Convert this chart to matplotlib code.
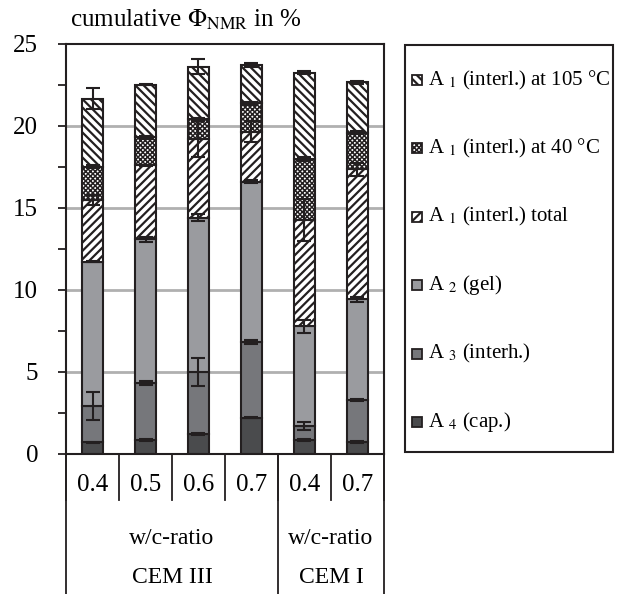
import matplotlib
matplotlib.use("Agg")
import matplotlib.pyplot as plt
from matplotlib.patches import Rectangle
import numpy as np

plt.rcParams["font.family"] = ["Liberation Serif", "DejaVu Serif"]
plt.rcParams["mathtext.fontset"] = "stix"

# w/c-ratio categories and cement groups
ratios = ["0.4", "0.5", "0.6", "0.7", "0.4", "0.7"]
groups = ["CEM III", "CEM I"]
group_sizes = [4, 2]

# cumulative tops of each stacked segment (in %), bottom to top
a4_cap = [0.71, 0.85, 1.22, 2.22, 0.85, 0.75]
a3_interh = [2.93, 4.31, 4.98, 6.83, 1.71, 3.29]
a2_gel = [11.73, 13.09, 14.41, 16.60, 7.80, 9.43]
a1_total = [15.50, 17.60, 19.19, 19.66, 14.27, 17.37]
a1_40 = [17.52, 19.31, 20.43, 21.38, 17.99, 19.60]
a1_105 = [21.65, 22.52, 23.62, 23.72, 23.25, 22.66]

# error bar half-widths at each cumulative top
err_a4 = [0.05, 0.05, 0.05, 0.05, 0.05, 0.05]
err_a3 = [0.85, 0.12, 0.85, 0.10, 0.25, 0.05]
err_a2 = [0.05, 0.15, 0.20, 0.08, 0.40, 0.15]
err_a1_total = [0.30, 0.05, 1.10, 0.63, 1.27, 0.40]
err_a1_40 = [0.10, 0.10, 0.08, 0.08, 0.10, 0.10]
err_a1_105 = [0.64, 0.05, 0.45, 0.12, 0.10, 0.10]

# label, data, errors, fill, hatch, hatch line width
layers = [
    ("A $_4$ (cap.)", a4_cap, err_a4, "#4a4b4d", None, 1.6),
    ("A $_3$ (interh.)", a3_interh, err_a3, "#76777b", None, 1.6),
    ("A $_2$ (gel)", a2_gel, err_a2, "#9a9b9f", None, 1.6),
    ("A $_1$ (interl.) total", a1_total, err_a1_total, "white", "////", 1.6),
    ("A $_1$ (interl.) at 40 °C", a1_40, err_a1_40, "white", "xxxxxxx", 1.1),
    ("A $_1$ (interl.) at 105 °C", a1_105, err_a1_105, "white", "\\\\\\\\", 1.6),
]

edge = "#231f20"
fs = 17
W, H = 624, 594
fig = plt.figure(figsize=(W / 100, H / 100), dpi=100)
ax = fig.add_axes([66 / W, 140 / H, 318 / W, 410 / H])

x = np.arange(len(ratios))
width = 0.415
bottom = np.zeros(len(ratios))
for label, tops, err, color, hatch, hlw in layers:
    plt.rcParams["hatch.linewidth"] = hlw
    tops = np.array(tops)
    ax.bar(x, tops - bottom, width, bottom=bottom, color=color, edgecolor=edge,
           linewidth=1.5, hatch=hatch, zorder=2)
    ax.errorbar(x, tops, yerr=err, fmt="none", ecolor=edge, elinewidth=1.5,
                capsize=5, capthick=1.5, zorder=3)
    bottom = tops

ax.set_xlim(-0.5, len(ratios) - 0.5)
ax.set_ylim(0, 25)
yt = np.arange(0, 25.1, 2.5)
ax.set_yticks(yt)
ax.set_yticklabels([f"{v:g}" if v % 5 == 0 else "" for v in yt])
ax.tick_params(axis="y", direction="out", length=6, width=1.3, colors=edge,
               labelsize=fs + 1, labelcolor="black", pad=14)
ax.set_xticks([])
for v in [5, 10, 15, 20]:
    ax.axhline(v, color="#b0b0b0", linewidth=2, zorder=1)
for s in ax.spines.values():
    s.set_color(edge)
    s.set_linewidth(1.5)

# multi-level category axis
tr = ax.get_xaxis_transform()
for i in range(len(ratios) + 1):
    ax.plot([i - 0.5, i - 0.5], [0, -0.112], transform=tr, color=edge, lw=1.3, clip_on=False)
    if i < len(ratios):
        ax.text(i, -0.076, ratios[i], transform=tr, ha="center", va="center", fontsize=fs + 1)
start = 0
for g, n in zip(groups, group_sizes):
    ax.plot([start - 0.5, start - 0.5], [0, -0.4], transform=tr, color=edge, lw=1.3, clip_on=False)
    c = start + (n - 1) / 2
    ax.text(c, -0.205, "w/c-ratio", transform=tr, ha="center", va="center", fontsize=fs)
    ax.text(c, -0.302, g, transform=tr, ha="center", va="center", fontsize=fs)
    start += n
ax.plot([start - 0.5, start - 0.5], [0, -0.4], transform=tr, color=edge, lw=1.3, clip_on=False)

fig.text(70 / W, 1 - 20 / H, "cumulative $\\Phi_{\\mathrm{NMR}}$ in %", fontsize=fs + 1,
         ha="left", va="center")

# legend drawn by hand: framed box, entries top to bottom
fig.add_artist(Rectangle((405 / W, 1 - 452 / H), 208 / W, 407 / H, transform=fig.transFigure,
                         facecolor="none", edgecolor=edge, linewidth=1.5))
rows = np.linspace(80, 422, len(layers))
for yy, (label, _, _, color, hatch, hlw) in zip(rows, layers[::-1]):
    plt.rcParams["hatch.linewidth"] = hlw
    fig.add_artist(Rectangle((412 / W, 1 - (yy + 5) / H), 10 / W, 10 / H,
                             transform=fig.transFigure, facecolor=color, edgecolor=edge,
                             hatch=hatch, linewidth=1.3))
    fig.text(428 / W, 1 - yy / H, label, fontsize=15, ha="left", va="center")

fig.savefig("out.png", dpi=100)
